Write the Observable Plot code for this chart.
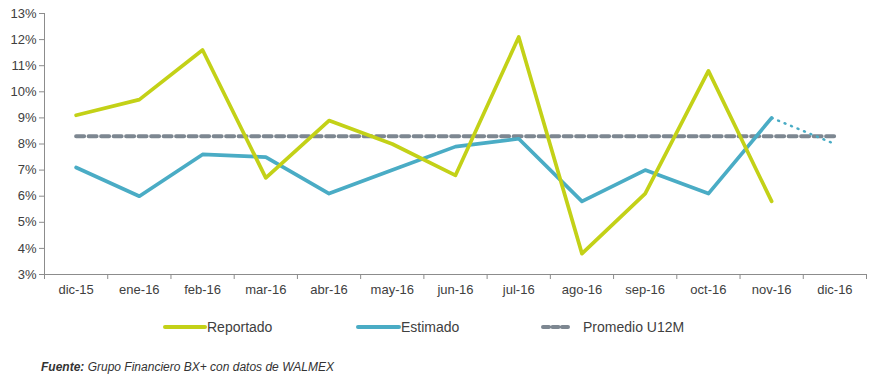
<!DOCTYPE html>
<html>
<head>
<meta charset="utf-8">
<script src="https://cdn.jsdelivr.net/npm/d3@7"></script>
<script src="https://cdn.jsdelivr.net/npm/@observablehq/plot@0.6"></script>
<style>
  body { margin: 0; background: #fff; font-family: "Liberation Sans", Arial, sans-serif; }
  #wrap { width: 873px; }
  .legend { position: relative; height: 52px; font-size: 14px; color: #404040; }
  .legend .item { position: absolute; top: 15px; display: flex; align-items: center; }
  .legend svg { display: block; }
  .caption { font-size: 12px; font-style: italic; color: #333; margin-left: 41px; margin-top: 4px; }
</style>
</head>
<body>
<div id="wrap">
  <div id="chart"></div>
  <div class="legend" id="legend"></div>
  <div class="caption"><b>Fuente:</b> Grupo Financiero BX+ con datos de WALMEX</div>
</div>
<script>
const months = ["dic-15","ene-16","feb-16","mar-16","abr-16","may-16","jun-16","jul-16","ago-16","sep-16","oct-16","nov-16","dic-16"];
const reportado = [9.1, 9.7, 11.6, 6.7, 8.9, 8.0, 6.8, 12.1, 3.8, 6.1, 10.8, 5.8, null];
const estimado = [7.1, 6.0, 7.6, 7.5, 6.1, 7.0, 7.9, 8.2, 5.8, 7.0, 6.1, 9.0, null];
const estimadoProy = [null, null, null, null, null, null, null, null, null, null, null, 9.0, 8.0];
const promedio = [8.3, 8.3, 8.3, 8.3, 8.3, 8.3, 8.3, 8.3, 8.3, 8.3, 8.3, 8.3, 8.3];
const yTicks = [3,4,5,6,7,8,9,10,11,12,13];

const colors = { rep: "#c3d117", est: "#4aacc5", prom: "#7d8791" };
const axisColor = "#8c8c8c";

const toRows = (arr) => arr.map((v, i) => ({ i, v })).filter(d => d.v !== null);
const idx = months.map((m, i) => i);
const boundaries = d3.range(months.length + 1).map(i => i - 0.5);

const chart = Plot.plot({
  width: 873,
  height: 304,
  marginLeft: 44,
  marginRight: 7,
  marginTop: 13,
  marginBottom: 30,
  style: { fontFamily: "Liberation Sans, Arial, sans-serif", fontSize: "13px", color: "#404040", background: "#fff" },
  x: { type: "linear", domain: [-0.5, months.length - 0.5] },
  y: { domain: [3, 13] },
  marks: [
    Plot.ruleY([3], { stroke: axisColor, strokeWidth: 1 }),
    Plot.ruleX([-0.5], { y1: 3, y2: 13, stroke: axisColor, strokeWidth: 1 }),
    Plot.ruleX(boundaries, { y1: 3, y2: 3, insetBottom: -5, stroke: axisColor, strokeWidth: 1 }),
    Plot.axisX({ ticks: idx, tickSize: 0, tickPadding: 10, tickFormat: i => months[i], label: null, fontSize: 13, fill: "#404040" }),
    Plot.axisY({ ticks: yTicks, tickSize: 5, tickPadding: 3, tickFormat: d => d + "%", label: null, stroke: axisColor, fill: "#404040", fontSize: 13 }),
    Plot.line(toRows(promedio), { x: "i", y: "v", stroke: colors.prom, strokeWidth: 4, strokeDasharray: "8,4.5", strokeLinecap: "round" }),
    Plot.line(toRows(estimadoProy), { x: "i", y: "v", stroke: colors.est, strokeWidth: 2.5, strokeDasharray: "1,6", strokeLinecap: "round" }),
    Plot.line(toRows(estimado), { x: "i", y: "v", stroke: colors.est, strokeWidth: 3.7, strokeLinejoin: "round" }),
    Plot.line(toRows(reportado), { x: "i", y: "v", stroke: colors.rep, strokeWidth: 3.7, strokeLinejoin: "round" })
  ]
});
document.getElementById("chart").appendChild(chart);

const legendItems = [
  { label: "Reportado", color: colors.rep, left: 163, w: 40, dash: null },
  { label: "Estimado", color: colors.est, left: 356, w: 41, dash: null },
  { label: "Promedio U12M", color: colors.prom, left: 541, w: 26, dash: "6,3.5", gap: 16 }
];
const legend = document.getElementById("legend");
for (const it of legendItems) {
  const div = document.createElement("div");
  div.className = "item";
  div.style.left = it.left + "px";
  const ns = "http://www.w3.org/2000/svg";
  const svg = document.createElementNS(ns, "svg");
  svg.setAttribute("width", it.w + 4);
  svg.setAttribute("height", 10);
  const ln = document.createElementNS(ns, "line");
  ln.setAttribute("x1", 2); ln.setAttribute("x2", it.w + 2);
  ln.setAttribute("y1", 5); ln.setAttribute("y2", 5);
  ln.setAttribute("stroke", it.color);
  ln.setAttribute("stroke-width", 4);
  ln.setAttribute("stroke-linecap", "round");
  if (it.dash) ln.setAttribute("stroke-dasharray", it.dash);
  svg.appendChild(ln);
  div.appendChild(svg);
  const sp = document.createElement("span");
  sp.textContent = it.label;
  sp.style.marginLeft = (it.gap ? it.gap - 4 : 0) + "px";
  div.appendChild(sp);
  legend.appendChild(div);
}
</script>
</body>
</html>
